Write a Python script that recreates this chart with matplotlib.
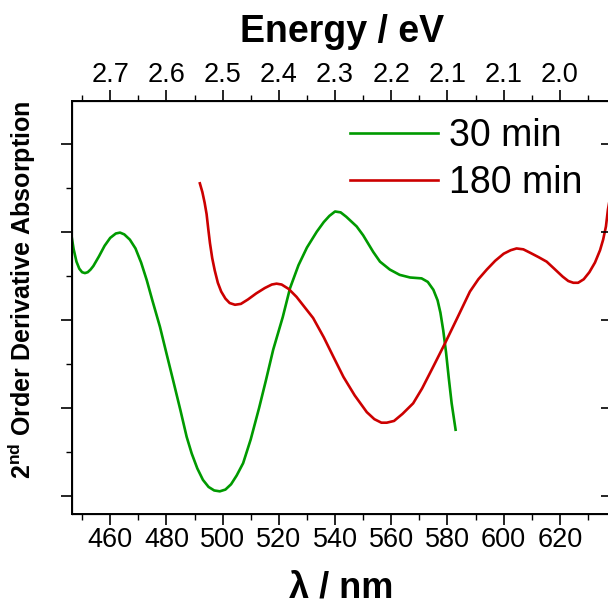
import matplotlib
matplotlib.use("Agg")
import matplotlib.pyplot as plt
from matplotlib.ticker import MultipleLocator, FixedLocator

plt.rcParams['font.family'] = ['Liberation Sans', 'DejaVu Sans']
plt.rcParams['mathtext.fontset'] = 'custom'
plt.rcParams['mathtext.rm'] = 'Liberation Sans'
plt.rcParams['mathtext.bf'] = 'Liberation Sans:bold'

# 30 min spectrum (wavelength nm, 2nd derivative, arb. units)
wl_30 = [446.3, 447, 448, 449, 450, 451, 452, 453, 454, 456, 458, 460, 462, 463.5,
         465, 467, 469, 471, 473, 475, 477.7, 480, 482.4, 485, 487.2, 489, 491,
         493, 495, 497, 499, 501, 503, 505, 507.3, 510, 513, 515.4, 518, 521.4,
         524, 527, 530, 533.5, 536, 538, 540, 542, 544, 547.7, 550, 553.6, 556,
         559.5, 563, 566.7, 570.8, 573, 575, 576.5, 577.5, 578.5, 579.5, 580.5,
         581.5, 582.9]
d2_30 = [2.94, 2.80, 2.66, 2.58, 2.54, 2.53, 2.54, 2.57, 2.61, 2.72, 2.84, 2.93, 2.98, 2.99,
         2.97, 2.91, 2.81, 2.65, 2.45, 2.22, 1.92, 1.62, 1.31, 0.97, 0.67, 0.48, 0.31,
         0.18, 0.10, 0.06, 0.05, 0.07, 0.13, 0.23, 0.37, 0.64, 1.00, 1.31, 1.66, 2.03,
         2.36, 2.62, 2.82, 3.00, 3.11, 3.18, 3.23, 3.22, 3.17, 3.06, 2.96, 2.77, 2.66,
         2.57, 2.51, 2.48, 2.47, 2.43, 2.34, 2.22, 2.08, 1.88, 1.63, 1.33,
         1.05, 0.75]

# 180 min spectrum
wl_180 = [491.9, 492.8, 493.6, 494.3, 494.9, 495.5, 496.3, 497.2, 498.3, 499.5, 501,
          502.5, 504.4, 506.5, 509, 512, 515, 517.5, 519.2, 521, 523.5, 526.3, 529,
          532.2, 536, 539.4, 543, 547, 551.3, 554, 556.5, 558.4, 561, 564, 567.8,
          571, 575, 579.1, 583.5, 588, 591, 594, 597, 600, 602.5, 604.6, 607, 609.5,
          612.5, 615.3, 618, 621, 623, 624.8, 626.5, 628.5, 630.5, 632.5, 634.3,
          635.4, 636.4, 637.1, 638.2]
d2_180 = [3.55, 3.45, 3.33, 3.20, 3.03, 2.87, 2.70, 2.56, 2.42, 2.32, 2.24,
          2.19, 2.17, 2.18, 2.23, 2.30, 2.36, 2.40, 2.41, 2.40, 2.35, 2.26, 2.15,
          2.02, 1.80, 1.58, 1.35, 1.14, 0.95, 0.87, 0.83, 0.83, 0.85, 0.93, 1.05,
          1.22, 1.47, 1.73, 2.02, 2.32, 2.46, 2.57, 2.67, 2.75, 2.79, 2.81, 2.80, 2.76,
          2.71, 2.66, 2.58, 2.49, 2.44, 2.42, 2.42, 2.46, 2.54, 2.65, 2.79,
          2.91, 3.06, 3.25, 3.45]

wl_ticks = [460, 480, 500, 520, 540, 560, 580, 600, 620]
ev_labels = [f"{1240 / w:.1f}" for w in wl_ticks]

W, H = 608, 605
fig = plt.figure(figsize=(W / 100, H / 100), dpi=100)
ax = fig.add_axes([71.7 / W, 1 - 514.3 / H, (611 - 71.7) / W, (514.3 - 100.7) / H])

ax.plot(wl_30, d2_30, color='#009a00', lw=1.9, label='30 min')
ax.plot(wl_180, d2_180, color='#cc0000', lw=1.9, label='180 min')

ax.set_xlim(446.3, 638.2)
ax.set_ylim(-0.211, 4.489)
ax.xaxis.set_major_locator(FixedLocator(wl_ticks))
ax.xaxis.set_minor_locator(MultipleLocator(10))
ax.yaxis.set_major_locator(MultipleLocator(1))
ax.yaxis.set_minor_locator(MultipleLocator(0.5))
ax.set_yticklabels([])
ax.tick_params(axis='x', which='major', direction='out', length=8, width=1.2,
               labelsize=19.5, pad=1.5)
ax.tick_params(axis='x', which='minor', direction='out', length=4, width=1.0)
ax.tick_params(axis='y', which='major', direction='out', length=8, width=1.2)
ax.tick_params(axis='y', which='minor', direction='out', length=4, width=1.0)
for s in ['left', 'bottom', 'right', 'top']:
    ax.spines[s].set_linewidth(1.4)

# right-hand ticks on a second y axis
ay = ax.twinx()
ay.set_ylim(ax.get_ylim())
ay.yaxis.set_major_locator(MultipleLocator(1))
ay.set_yticklabels([])
ay.tick_params(axis='y', which='major', direction='in', length=7, width=1.2)
ay.tick_params(axis='y', which='minor', length=0)

# energy axis on top
ax2 = ax.twiny()
ax2.set_xlim(ax.get_xlim())
ax2.xaxis.set_major_locator(FixedLocator(wl_ticks))
ax2.xaxis.set_minor_locator(MultipleLocator(10))
ax2.set_xticklabels(ev_labels)
ax2.tick_params(axis='x', which='major', direction='out', length=8, width=1.2,
                labelsize=19.5, pad=1.5)
ax2.tick_params(axis='x', which='minor', direction='out', length=4, width=1.0)

fig.text(342 / W, 1 - 42 / H, 'Energy / eV', ha='center', va='baseline',
         fontsize=27, fontweight='bold')
fig.text(341 / W, 1 - 597 / H, 'λ / nm', ha='center', va='baseline',
         fontsize=26, fontweight='bold')
fig.text(22 / W, 1 - 290 / H, r'$\mathbf{2^{nd}}$ Order Derivative Absorption',
         rotation=90, ha='center', va='center', fontsize=18, fontweight='bold')

ax.legend(loc='upper left', bbox_to_anchor=(350 / W, 1 - 118 / H),
          bbox_transform=fig.transFigure, frameon=False, fontsize=27,
          handlelength=2.35, handletextpad=0.28, labelspacing=0.3,
          borderpad=0, borderaxespad=0)

fig.savefig('out.png', dpi=100)
